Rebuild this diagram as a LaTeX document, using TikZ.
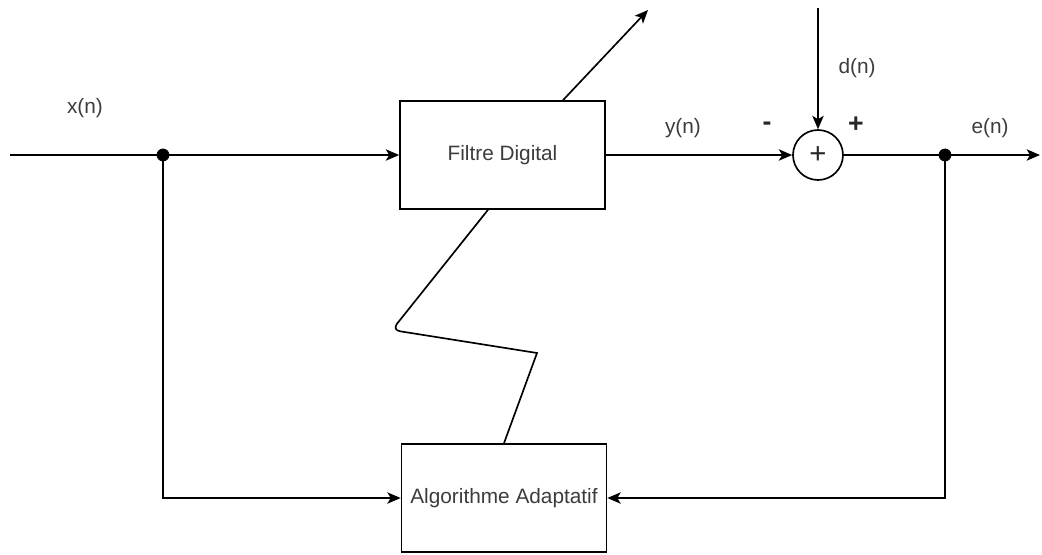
\documentclass[tikz,border=0pt]{standalone}
\usepackage{fontspec}
\setmainfont{Liberation Sans}
\usetikzlibrary{arrows.meta}
\definecolor{txt}{RGB}{60,60,60}
\begin{document}
\begin{tikzpicture}[x=0.75pt,y=-0.75pt,
  line width=1.25pt,
  >={Stealth[length=10pt,width=8.5pt,inset=2.5pt]},
  blk/.style={draw,minimum width=153.75pt,minimum height=81pt,inner sep=0pt,font=\fontsize{15.6}{18}\selectfont,text=txt},
  summer/.style={draw,circle,minimum size=37.5pt,inner sep=0pt,font=\fontsize{22}{24}\selectfont,text=black!85},
  lbl/.style={font=\fontsize{15.6}{18}\selectfont,text=txt},
  sgn/.style={font=\bfseries\fontsize{20}{22}\selectfont,text=black!85},
  junc/.style={circle,fill,draw,line width=0.6pt,inner sep=0pt,minimum size=9pt}]
\useasboundingbox (0,0) rectangle (1042,554);

% blocks
\node[blk] (filt) at (502.5,155) {Filtre Digital};
\node[blk] (algo) at (504,498) {Algorithme Adaptatif};
\node[summer] (sum) at (818,155) {+};

% signal points
\coordinate (in) at (10,155);
\coordinate (out) at (1040,155);
\coordinate (dsrc) at (818,8);
\coordinate (tune) at (648,10);

% labels
\node[lbl] (lx) at (85,108) {x(n)};
\node[lbl] (ly) at (683,128) {y(n)};
\node[lbl] (ld) at (857,68) {d(n)};
\node[lbl] (le) at (990,128) {e(n)};
\node[sgn] (sm) at (767,126) {-};
\node[sgn] (sp) at (856,125) {+};

% junction dots (drawn above the wires)
\coordinate (jx) at (163,155);
\coordinate (je) at (945,155);

% forward path
\draw (in) -- (jx);
\draw[->] (jx) -- (filt.west);
\draw[->] (filt.east) -- (sum.west);
\draw[->] (dsrc) -- (sum.north);
\draw (sum.east) -- (je);
\draw[->] (je) -- (out);

% adaptation loops
\draw[->] (jx) |- (algo.west);
\draw[->] (je) |- (algo.east);

% coefficient update (slanted arrow through the filter)
\draw[->] (filt.north -| 563,0) -- (tune);
\draw (filt.south -| 488,0) [rounded corners=6pt] -- (392,330) [sharp corners] -- (537,353) -- (algo.north -| 504,0);

\node[junc] (dx) at (jx) {};
\node[junc] (de) at (je) {};
\end{tikzpicture}
\end{document}
